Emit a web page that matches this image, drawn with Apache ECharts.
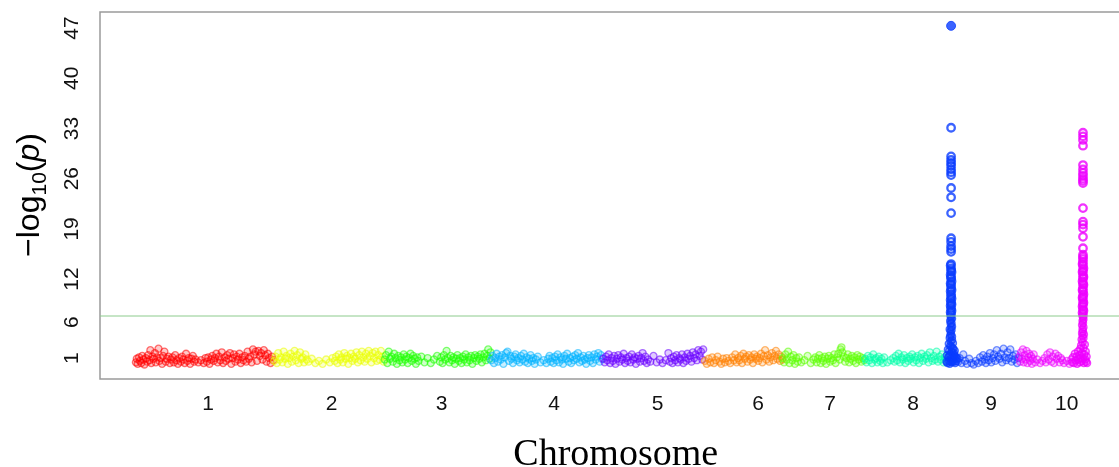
<!DOCTYPE html>
<html>
<head>
<meta charset="utf-8">
<script src="https://cdn.jsdelivr.net/npm/echarts@6/dist/echarts.min.js"></script>
<style>
  html, body { margin: 0; padding: 0; background: #ffffff; }
  #chart { width: 1119px; height: 467px; }
</style>
</head>
<body>
<div id="chart"></div>
<script>
// Chromosome layout (Mb) and colours
const chrNames = ['1', '2', '3', '4', '5', '6', '7', '8', '9', '10'];
const chrLengths = [307.0, 244.4, 235.7, 247.0, 223.9, 174.0, 182.4, 181.1, 159.8, 151.0];
const chrColors = ['#ff0000', '#eaff00', '#1eff00', '#00b4ff', '#6a00ff',
                   '#ff8000', '#5cff00', '#00ffaa', '#0a3cff', '#ee00ff'];
// chromosome label positions on the cumulative axis (Mb)
const chrLabelPos = [161.5, 435.2, 678.5, 927.0, 1156.4, 1378.3, 1537.6, 1721.2, 1893.8, 2061.3];
const yTicks = [1, 6, 12, 19, 26, 33, 40, 47];
const threshold = 6.86;

// SNP associations per chromosome: [position within chromosome (Mb), -log10(p)]
const chr1 = [[2,0.4],[4,0.9],[6,0.2],[9,1.1],[11,0.6],[14,0.3],[16,1.3],[19,0.8],[21,0.1],[24,1.0],[27,0.5],[29,1.4],[32,0.7],[34,2.1],[36,0.3],[39,1.2],[41,0.9],[44,1.7],[46,0.4],[49,1.1],[52,2.3],[54,0.6],[57,1.0],[60,0.2],[62,1.3],[65,1.9],[68,0.5],[71,0.9],[74,1.2],[77,0.3],[80,0.8],[83,1.1],[86,0.4],[89,1.4],[92,0.7],[95,0.2],[98,1.0],[101,0.5],[104,1.2],[107,0.8],[110,0.3],[113,1.6],[116,0.6],[119,1.0],[122,0.2],[125,0.9],[128,1.3],[131,0.5],[134,0.8],[140,0.4],[146,0.7],[152,0.3],[156,1.0],[159,0.5],[162,1.1],[165,0.2],[168,0.8],[171,1.3],[174,0.6],[177,1.0],[180,1.6],[183,0.4],[186,1.2],[189,0.7],[192,1.8],[195,0.3],[198,1.1],[201,0.6],[204,1.4],[207,0.9],[210,1.7],[213,0.2],[216,1.0],[219,1.5],[222,0.5],[225,1.2],[228,0.8],[231,1.6],[234,0.3],[237,1.1],[240,0.7],[243,1.3],[246,0.5],[249,1.9],[252,0.9],[255,1.2],[258,0.4],[261,2.2],[264,1.5],[267,1.9],[270,0.6],[273,2.0],[276,1.3],[279,1.7],[282,0.8],[285,2.1],[288,1.4],[291,0.5],[294,1.6],[297,1.0],[300,0.3],[303,1.2],[306,0.7]];
const chr2 = [[1,0.6],[4,1.2],[7,0.3],[10,1.7],[13,0.8],[16,1.1],[19,0.4],[22,1.9],[25,0.9],[28,1.3],[31,0.2],[34,1.0],[37,1.6],[40,0.5],[43,1.2],[46,2.0],[49,0.7],[52,1.4],[55,0.3],[58,1.8],[61,0.9],[64,1.1],[67,0.4],[70,1.5],[73,0.8],[77,0.5],[84,0.9],[92,0.3],[100,0.6],[108,0.2],[116,0.8],[124,0.4],[130,1.0],[135,0.6],[138,1.2],[141,0.3],[144,1.5],[147,0.8],[150,1.1],[153,0.4],[156,1.7],[159,0.9],[162,1.3],[165,0.2],[168,1.0],[171,1.6],[174,0.6],[177,1.2],[180,0.9],[183,1.8],[186,0.4],[189,1.4],[192,0.7],[195,1.9],[198,1.1],[201,0.5],[204,1.6],[207,0.9],[210,2.0],[213,1.3],[216,0.4],[219,1.7],[222,1.0],[225,1.9],[228,0.6],[231,1.4],[234,0.8],[237,2.0],[240,1.2],[243,0.5]];
const chr3 = [[1,0.8],[4,1.4],[7,0.3],[10,1.9],[13,0.9],[16,1.2],[19,0.5],[22,1.6],[25,1.0],[28,0.2],[31,1.3],[34,0.7],[37,1.1],[40,0.4],[43,1.5],[46,0.8],[49,1.2],[52,0.3],[55,1.0],[58,1.6],[61,0.6],[64,1.3],[67,0.9],[70,0.2],[73,1.1],[76,0.6],[82,1.2],[89,0.4],[96,1.0],[103,0.3],[110,0.8],[117,1.3],[123,0.5],[126,1.1],[129,0.3],[132,1.4],[135,0.8],[138,2.0],[141,1.0],[144,0.4],[147,1.3],[150,0.7],[153,1.1],[156,0.2],[159,0.9],[162,1.4],[165,0.6],[168,1.0],[171,0.3],[174,1.2],[177,0.8],[180,1.5],[183,0.4],[186,1.1],[189,0.7],[192,1.3],[195,0.2],[198,1.0],[201,1.4],[204,0.6],[207,1.2],[210,0.9],[213,1.5],[216,0.4],[219,1.1],[222,1.6],[225,0.7],[228,1.3],[230,2.2],[233,0.9],[235,1.8]];
const chr4 = [[1,0.7],[4,1.3],[7,0.3],[10,1.0],[13,1.6],[16,0.5],[19,1.2],[22,0.8],[25,1.4],[28,0.2],[31,1.1],[34,1.7],[37,1.9],[40,0.6],[43,1.3],[46,0.9],[49,0.3],[52,1.2],[55,1.5],[58,0.7],[61,1.0],[64,0.4],[67,1.3],[70,0.8],[73,1.6],[76,0.5],[79,1.1],[82,0.3],[85,0.9],[88,1.4],[91,0.6],[94,1.0],[97,0.2],[100,0.8],[104,1.2],[110,0.4],[117,0.7],[123,0.3],[127,0.9],[130,1.3],[133,0.5],[136,1.0],[139,0.3],[142,1.2],[145,0.7],[148,1.5],[151,0.4],[154,1.1],[157,0.8],[160,0.2],[163,1.3],[166,0.9],[169,1.6],[172,0.5],[175,1.0],[178,0.3],[181,1.2],[184,0.7],[187,1.4],[190,0.9],[193,1.7],[196,0.4],[199,1.1],[202,0.6],[205,1.3],[208,0.8],[211,0.2],[214,1.0],[217,1.4],[220,0.6],[223,1.1],[226,0.3],[229,1.5],[232,0.8],[235,1.2],[238,1.7],[241,0.5],[244,1.4],[246,0.9]];
const chr5 = [[2,0.9],[5,0.4],[8,1.2],[11,0.7],[14,1.5],[17,0.3],[20,1.0],[23,0.6],[26,1.3],[29,0.2],[32,0.9],[35,1.4],[38,0.5],[41,1.1],[44,0.8],[47,1.6],[50,0.3],[53,1.0],[56,0.6],[59,1.2],[62,0.4],[65,1.5],[68,0.8],[71,1.1],[74,0.2],[77,0.9],[80,1.3],[83,0.5],[86,1.0],[89,1.7],[92,0.6],[95,1.2],[98,0.3],[101,0.8],[106,0.5],[113,1.3],[120,0.4],[127,0.8],[133,0.3],[140,0.7],[146,1.7],[149,0.5],[152,1.0],[155,0.3],[158,1.2],[161,0.7],[164,1.4],[167,0.4],[170,1.0],[173,0.8],[176,1.5],[179,0.3],[182,1.1],[185,0.6],[188,1.6],[191,0.9],[194,1.3],[197,0.5],[200,1.8],[203,1.0],[206,1.5],[209,0.7],[212,2.1],[215,1.3],[218,1.9],[221,0.8],[223,2.2]];
const chr6 = [[3,0.6],[7,0.2],[11,0.9],[15,0.4],[19,1.1],[23,0.3],[27,0.7],[31,1.2],[35,0.5],[39,0.2],[43,0.9],[47,0.4],[51,1.0],[55,0.6],[59,0.3],[63,1.1],[67,0.7],[70,1.5],[73,0.4],[76,1.0],[79,0.7],[82,1.3],[85,0.3],[88,1.6],[91,0.9],[94,1.2],[97,0.5],[100,1.4],[103,0.8],[106,1.1],[109,0.3],[112,1.5],[115,0.9],[118,1.2],[121,0.6],[124,1.0],[127,1.6],[130,0.4],[133,1.3],[136,2.1],[139,0.8],[142,1.4],[145,0.5],[148,1.1],[151,1.7],[154,0.7],[157,1.3],[160,2.0],[163,0.9],[166,1.5],[169,0.6],[172,1.2],[174,0.8]];
const chr7 = [[1,1.0],[4,0.4],[7,1.5],[10,0.8],[13,1.9],[16,0.3],[19,1.2],[22,0.7],[25,1.4],[28,0.2],[31,1.0],[34,0.5],[37,1.1],[42,0.4],[49,0.7],[56,1.3],[63,0.3],[69,0.8],[73,1.1],[76,0.4],[79,0.9],[82,1.4],[85,0.3],[88,1.0],[91,0.6],[94,1.2],[97,0.2],[100,0.9],[103,1.3],[106,0.5],[109,1.0],[112,0.7],[115,1.5],[118,0.3],[121,1.1],[124,1.6],[127,0.8],[129,2.2],[131,2.5],[133,1.8],[136,1.2],[139,0.5],[142,1.0],[145,1.5],[148,0.4],[151,0.9],[154,1.3],[157,0.6],[160,1.1],[163,0.3],[166,1.4],[169,0.8],[172,1.2],[175,0.5],[178,1.0],[181,0.7]];
const chr8 = [[1,0.9],[4,0.4],[7,1.3],[10,0.7],[13,1.1],[16,0.3],[19,1.5],[22,0.8],[25,1.0],[28,0.4],[31,1.2],[34,0.6],[37,0.9],[40,0.3],[43,1.1],[50,0.4],[57,0.7],[63,1.0],[66,0.5],[69,1.3],[72,0.7],[75,1.6],[78,0.4],[81,1.1],[84,0.8],[87,1.4],[90,0.3],[93,1.0],[96,0.6],[99,1.2],[102,0.9],[105,1.5],[108,0.4],[111,1.1],[114,0.7],[117,1.3],[120,0.3],[123,1.0],[126,1.6],[129,0.6],[132,1.2],[135,0.9],[138,1.4],[141,0.4],[144,1.8],[147,1.0],[150,0.6],[153,1.3],[156,0.8],[159,1.9],[162,0.5],[165,1.2],[168,0.8],[171,1.5],[174,0.4],[177,1.1],[180,0.7]];
const chr9 = [[26,0.5],[29,1.0],[33,0.3],[37,1.5],[41,0.6],[45,0.2],[50,0.9],[55,0.3],[60,0.1],[65,0.6],[70,0.3],[74,1.1],[78,0.5],[81,1.4],[84,0.8],[87,0.3],[90,1.2],[93,0.7],[96,1.7],[99,0.4],[102,1.0],[105,1.5],[108,0.6],[111,2.1],[114,1.2],[117,0.9],[120,1.6],[123,0.4],[126,2.3],[129,1.1],[132,0.7],[135,1.8],[138,1.0],[141,2.2],[144,0.5],[147,1.3],[150,0.8],[153,1.5],[156,0.3],[159,1.0]];
const chr10 = [[1,1.2],[3,0.5],[5,1.8],[7,0.9],[9,2.2],[11,0.4],[13,1.4],[15,0.8],[17,2.0],[19,0.3],[21,1.1],[23,1.6],[25,0.6],[27,1.3],[29,0.2],[31,0.9],[33,1.5],[36,0.4],[41,0.8],[47,0.3],[52,0.6],[57,1.0],[60,0.4],[63,1.5],[66,0.8],[69,1.8],[72,0.5],[75,1.2],[78,0.3],[81,1.6],[84,0.9],[87,1.3],[90,0.4],[93,1.0],[96,0.7],[100,0.3],[106,0.6],[112,0.2],[116,0.8]];

// associated loci on chromosomes 9 and 10
const chr9Peak = [[0,0.5],[1,1.4],[2,0.3],[3,2.2],[4,1.1],[5,0.6],[5,3.0],[6,2.0],[6,1.3],[7,0.2],[7,3.8],[8,1.5],[8,2.7],[9,0.9],[9,3.3],[10,2.6],[10,0.5],[11,0.4],[11,1.9],[12,1.8],[12,3.5],[13,1.2],[13,2.4],[14,0.7],[14,3.1],[15,2.3],[15,1.0],[16,0.5],[16,1.7],[17,1.4],[18,0.9],[18,2.0],[19,0.3],[20,1.2],[21,1.0],[22,0.6],[24,0.9],
  [8,4.1],[10,4.3],[12,4.0],[9,4.7],[11,4.9],[7,5.0],[10,5.3],[12,5.4],[9,5.8],[11,5.9],[8,6.2],[10,6.4],[12,6.5],[9,6.8],
  [10,7.1],[9,7.4],[11,7.6],[10,7.9],[9,8.3],[11,8.5],[10,8.7],[9,9.1],[11,9.3],[10,9.6],[10,9.9],[9,10.3],[11,10.5],[10,10.8],[10,11.2],[9,11.4],[11,11.7],[10,12.1],[10,12.3],[9,12.6],[11,13.0],[10,13.2],[10,13.5],[9,13.9],[10,14.1],
  [10,15.8],[10,16.2],[10,16.6],[10,17.2],[10,17.7],[10,21.2],[10,23.4],[10,24.7],[10,26.5],[10,26.9],[10,27.3],[10,27.8],[10,28.2],[10,28.6],[10,29.1],[10,33.1],[10,47.3]];
const chr10Peak = [[118,0.4],[120,1.1],[122,0.3],[124,1.6],[126,0.7],[128,1.2],[129,0.2],[131,1.9],[132,0.8],[134,1.4],[135,0.4],[136,2.3],[137,1.0],[138,2.8],[139,0.6],[140,1.7],[141,3.2],[142,0.9],[143,2.4],[144,0.3],[145,1.5],[146,2.9],[147,0.8],[148,1.9],[149,0.5],[150,1.2],[151,0.3],
  [139,3.6],[143,3.8],[141,4.1],[140,4.5],[142,4.7],[144,4.3],[141,5.0],[143,5.3],[140,5.6],[142,5.9],[141,6.2],[143,6.4],[142,6.7],
  [142,7.0],[141,7.3],[143,7.6],[142,7.8],[141,8.2],[142,8.5],[143,8.7],[142,9.1],[141,9.4],[142,9.6],[143,9.9],[142,10.3],[141,10.5],[142,10.8],[143,11.2],[142,11.4],[141,11.7],[142,12.1],[143,12.3],[142,12.6],[141,13.0],[142,13.2],[143,13.5],[142,13.9],[141,14.1],[142,14.4],[142,14.8],[142,15.1],[142,15.4],
  [142,16.3],[142,17.9],[142,19.1],[142,19.6],[142,20.0],[142,21.9],[142,25.4],[142,25.7],[142,26.0],[142,26.4],[142,26.8],[142,27.3],[142,27.9],[142,30.6],[142,31.4],[142,31.9],[142,32.4]];

const chrData = [chr1, chr2, chr3, chr4, chr5, chr6, chr7, chr8, chr9, chr10];

// cumulative chromosome start offsets
const chrOffsets = [];
let acc = 0;
chrLengths.forEach(len => { chrOffsets.push(acc); acc += len; });

const xMin = -77.4, xMax = 2182.5;

function hexToRgba(hex, a) {
  const n = parseInt(hex.slice(1), 16);
  return 'rgba(' + ((n >> 16) & 255) + ',' + ((n >> 8) & 255) + ',' + (n & 255) + ',' + a + ')';
}

const series = chrData.map((pts, i) => ({
  type: 'scatter',
  name: 'chr' + chrNames[i],
  symbol: 'circle',
  symbolSize: 7,
  silent: true,
  data: pts.map(p => [chrOffsets[i] + p[0], p[1]]),
  itemStyle: { color: hexToRgba(chrColors[i], 0.26), borderColor: hexToRgba(chrColors[i], 0.68), borderWidth: 1.3 }
}));

function peakSeries(pts, idx) {
  return {
    type: 'scatter',
    name: 'chr' + chrNames[idx] + ' locus',
    symbol: 'circle',
    silent: true,
    z: 3,
    data: pts.map(p => {
      const v = p[1];
      const item = { value: [chrOffsets[idx] + p[0], v] };
      if (v >= 40) {
        item.symbolSize = 9;
        item.itemStyle = { color: chrColors[idx], borderColor: chrColors[idx], borderWidth: 1 };
      } else if (v >= threshold) {
        item.symbolSize = 7.5;
        item.itemStyle = { color: 'rgba(0,0,0,0)', borderColor: chrColors[idx], borderWidth: 2.3 };
      } else {
        item.symbolSize = 7;
        item.itemStyle = { color: hexToRgba(chrColors[idx], 0.35), borderColor: hexToRgba(chrColors[idx], 0.9), borderWidth: 1.5 };
      }
      return item;
    })
  };
}
series.push(peakSeries(chr9Peak, 8));
series.push(peakSeries(chr10Peak, 9));

// genome-wide significance line across the full plot width
series.push({
  type: 'line',
  name: 'threshold',
  data: [[xMin, threshold], [xMax, threshold]],
  symbol: 'none',
  silent: true,
  z: 4,
  lineStyle: { color: '#8ccb8c', width: 1, type: 'solid' }
});

const chart = echarts.init(document.getElementById('chart'), null, { renderer: 'canvas' });
chart.setOption({
  animation: false,
  backgroundColor: '#ffffff',
  grid: {
    left: 100, top: 12, width: 1021.5, height: 367,
    show: true, borderColor: '#9a9a9a', borderWidth: 1.5,
    containLabel: false, outerBoundsMode: 'none'
  },
  xAxis: {
    type: 'value',
    min: xMin, max: xMax,
    axisLine: { show: false },
    axisTick: { show: false },
    splitLine: { show: false },
    name: 'Chromosome',
    nameLocation: 'middle',
    nameGap: 57,
    nameTextStyle: { fontFamily: '"Liberation Serif", "Times New Roman", serif', fontSize: 38, color: '#000', padding: [0, 0, 0, 10] },
    axisLabel: {
      customValues: chrLabelPos,
      margin: 15,
      fontFamily: '"Liberation Sans", Arial, sans-serif',
      fontSize: 21,
      color: '#111',
      formatter: v => {
        let best = 0;
        chrLabelPos.forEach((p, k) => { if (Math.abs(p - v) < Math.abs(chrLabelPos[best] - v)) best = k; });
        return chrNames[best];
      }
    }
  },
  yAxis: {
    type: 'value',
    min: -1.92, max: 49.23,
    axisLine: { show: false },
    axisTick: { show: false },
    splitLine: { show: false },
    axisLabel: {
      customValues: yTicks,
      rotate: 90,
      margin: 17,
      fontFamily: '"Liberation Sans", Arial, sans-serif',
      fontSize: 21,
      color: '#111'
    }
  },
  graphic: [{
    type: 'text',
    x: 30, y: 195,
    rotation: Math.PI / 2,
    style: {
      text: '{a|\u2212log}{s|10}{a|(}{i|p}{a|)}',
      align: 'center',
      verticalAlign: 'middle',
      fill: '#000',
      rich: {
        a: { fontFamily: '"Liberation Sans", Arial, sans-serif', fontSize: 32, fill: '#000', lineHeight: 42, verticalAlign: 'middle' },
        s: { fontFamily: '"Liberation Sans", Arial, sans-serif', fontSize: 21, fill: '#000', lineHeight: 42, verticalAlign: 'bottom' },
        i: { fontFamily: '"Liberation Sans", Arial, sans-serif', fontStyle: 'italic', fontSize: 32, fill: '#000', lineHeight: 42, verticalAlign: 'middle' }
      }
    }
  }],
  series: series
});
</script>
</body>
</html>
